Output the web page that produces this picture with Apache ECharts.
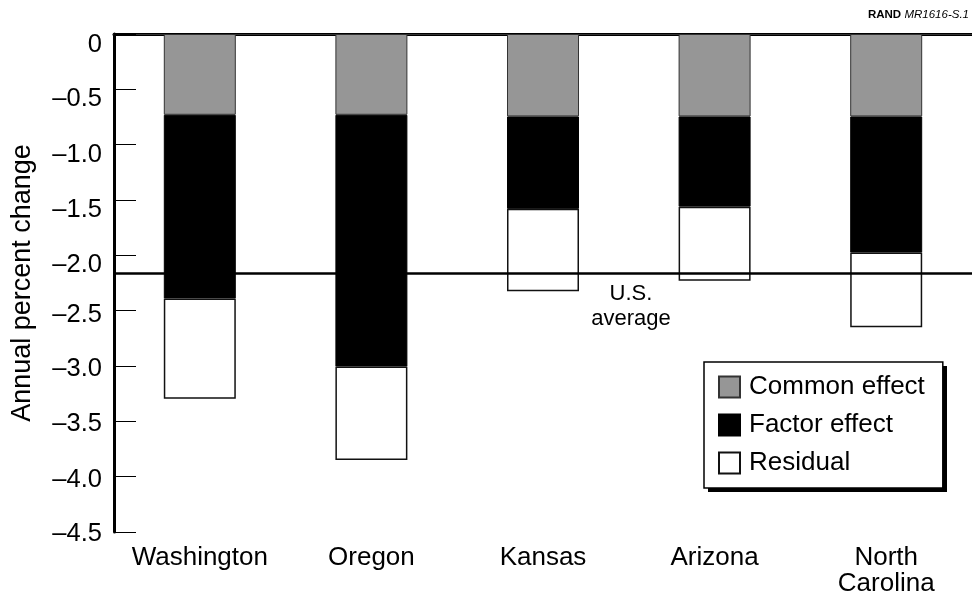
<!DOCTYPE html>
<html>
<head>
<meta charset="utf-8">
<script src="https://cdn.jsdelivr.net/npm/echarts@6/dist/echarts.min.js"></script>
<style>
  html, body { margin: 0; padding: 0; background: #fff; }
  #chart { width: 972px; height: 600px; }
</style>
</head>
<body>
<div id="chart"></div>
<script>
// values (annual percent change)
const states = ['Washington', 'Oregon', 'Kansas', 'Arizona', 'North\nCarolina'];
const commonEffect = [-0.73, -0.73, -0.745, -0.745, -0.745];
const factorEffect = [-1.66, -2.275, -0.835, -0.815, -1.23];
const residual = [-0.905, -0.845, -0.745, -0.67, -0.675];
const usAverage = -2.16;
const yTicks = [0, -0.5, -1.0, -1.5, -2.0, -2.5, -3.0, -3.5, -4.0, -4.5];

// the original tick labels sit a little below their ticks near the top
const labelShift = [11, 10, 10, 10, 9.5, 4, 3, 3, 3, 1.5];

const font = '"Liberation Sans", Arial, Helvetica, sans-serif';

const rich = {};
labelShift.forEach((d, i) => {
    rich['p' + i] = { fontSize: 25.5, fontFamily: font, color: '#000', padding: [d * 2, 0, 0, 0] };
});

const chart = echarts.init(document.getElementById('chart'));

const option = {
    animation: false,
    textStyle: { fontFamily: font },
    grid: { left: 114, right: 0, top: 34, bottom: 68 },
    legend: {
        orient: 'vertical',
        left: 704,
        top: 362,
        z: 5,
        itemWidth: 21,
        itemHeight: 21,
        itemGap: 12,
        padding: [12, 18, 12, 14],
        icon: 'rect',
        backgroundColor: '#fff',
        borderColor: '#000',
        borderWidth: 1.5,
        textStyle: { fontSize: 26, color: '#000', fontFamily: font, padding: [0, 0, 0, 4] },
        data: [
            { name: 'Common effect' },
            { name: 'Factor effect' },
            { name: 'Residual', itemStyle: { borderWidth: 2 } }
        ]
    },
    xAxis: [
        {
            type: 'category',
            data: states,
            position: 'bottom',
            axisLine: { lineStyle: { color: '#000', width: 3 } },
            axisTick: { inside: true, length: 22, interval: 0, lineStyle: { color: '#000', width: 1 } },
            axisLabel: { fontSize: 26, color: '#000', fontFamily: font, lineHeight: 26, margin: 13, interval: 0 }
        },
        {
            type: 'category',
            data: states,
            position: 'top',
            axisLine: { lineStyle: { color: '#333', width: 1 } },
            axisTick: { show: false },
            axisLabel: { show: false }
        }
    ],
    yAxis: {
        type: 'value',
        min: -4.5,
        max: 0,
        interval: 0.5,
        name: 'Annual percent change',
        nameLocation: 'middle',
        nameGap: 78,
        nameTextStyle: { fontSize: 27, color: '#000', fontFamily: font },
        axisLine: { show: true, lineStyle: { color: '#000', width: 3 } },
        axisTick: { show: true, inside: true, length: 22, lineStyle: { color: '#000', width: 1 } },
        splitLine: { show: false },
        axisLabel: {
            margin: 12,
            formatter: v => {
                const i = yTicks.findIndex(t => Math.abs(t - v) < 1e-6);
                const txt = v === 0 ? '0' : '\u2013' + Math.abs(v).toFixed(1);
                return '{p' + (i < 0 ? 0 : i) + '|' + txt + '}';
            },
            rich: rich
        }
    },
    series: [
        {
            name: 'Common effect',
            type: 'bar',
            stack: 'total',
            barWidth: 72,
            data: commonEffect,
            itemStyle: { color: '#969696', borderColor: '#333', borderWidth: 1 }
        },
        {
            name: 'Factor effect',
            type: 'bar',
            stack: 'total',
            barWidth: 72,
            data: factorEffect,
            itemStyle: { color: '#000', borderColor: '#000', borderWidth: 1 }
        },
        {
            name: 'Residual',
            type: 'bar',
            stack: 'total',
            barWidth: 72,
            data: residual,
            itemStyle: { color: '#fff', borderColor: '#111', borderWidth: 1.5 },
            markLine: {
                silent: true,
                symbol: 'none',
                label: { show: false },
                lineStyle: { color: '#000', width: 2.5, type: 'solid' },
                data: [{ yAxis: usAverage }]
            }
        }
    ],
    graphic: [
        {
            // drop shadow behind the legend box
            type: 'rect',
            z: 4,
            shape: { x: 708, y: 366, width: 239, height: 126 },
            style: { fill: '#000' }
        },
        {
            type: 'text',
            x: 631,
            y: 281,
            style: {
                text: 'U.S.\naverage',
                align: 'center',
                fontSize: 22,
                lineHeight: 25,
                fontFamily: font,
                fill: '#000'
            }
        },
        {
            type: 'text',
            right: 3,
            top: 9,
            style: {
                text: '{b|RAND} {i|MR1616-S.1}',
                rich: {
                    b: { fontSize: 11.5, fontWeight: 'bold', fontFamily: font, fill: '#000' },
                    i: { fontSize: 11.5, fontStyle: 'italic', fontFamily: font, fill: '#000' }
                }
            }
        }
    ]
};

chart.setOption(option);
</script>
</body>
</html>
